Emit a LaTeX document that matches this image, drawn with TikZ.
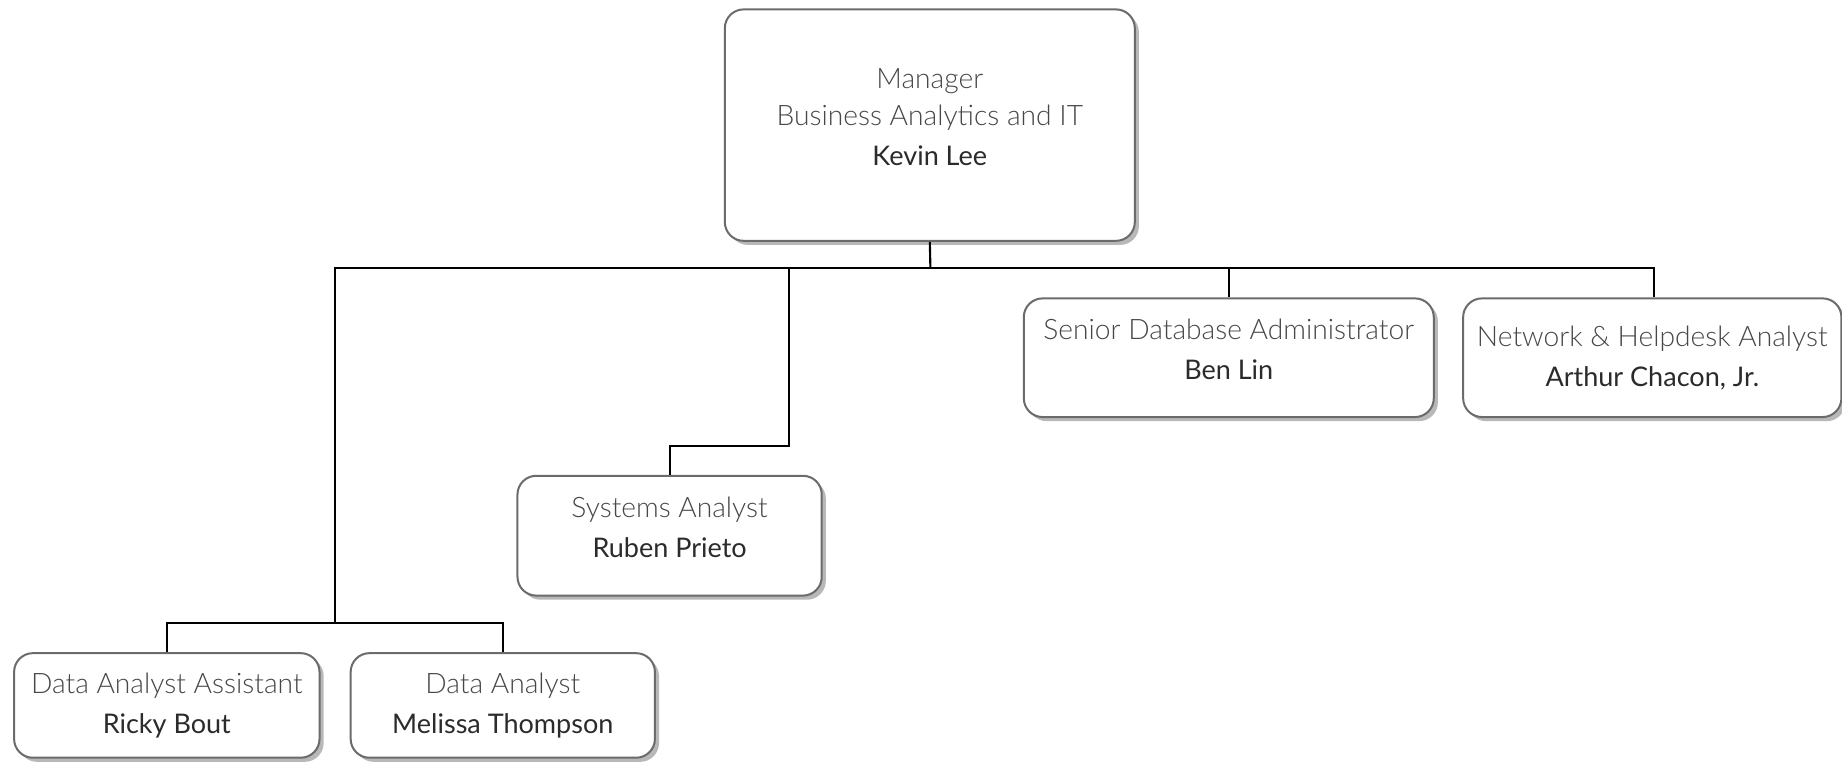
\documentclass[tikz,border=0pt]{standalone}
\usepackage{fontspec}
\setmainfont{Lato}
\newfontfamily\titlefont{Lato Light}
\usepackage{tikz}
\usetikzlibrary{shadows}
\definecolor{boxline}{HTML}{6B6B6B}
\definecolor{titlegray}{HTML}{474747}
\definecolor{namegray}{HTML}{2B2B2B}
% title line, name line, optional lift of the text block
\newcommand{\post}[3][0pt]{{\titlefont\color{titlegray}#2}\\{\fontsize{23}{34}\selectfont\color{namegray}#3\rule[-#1]{0pt}{#1}}}

\begin{document}
\begin{tikzpicture}[x=1pt,y=-1pt,
	person/.style={draw=boxline, line width=1.7pt, fill=white, rounded corners=16pt,
		align=center, inner sep=0pt, font=\fontsize{24}{34}\selectfont,
		drop shadow={shadow xshift=3.5pt, shadow yshift=-3.5pt, fill=black!28, opacity=1}},
	link/.style={draw=black, line width=1.8pt}]
	\useasboundingbox (0,0) rectangle (1568,648);
	\node[person, minimum width=349pt, minimum height=197pt] (mgr) at (791.5,106.5)
		{{\titlefont\color{titlegray}Manager}\\[-2pt]\post[14pt]{Business Analytics and IT}{Kevin Lee}};
	\node[person, minimum width=349pt, minimum height=101pt] (dba) at (1046,304.5)
		{\post[14pt]{Senior Database Administrator}{Ben Lin}};
	\node[person, minimum width=322pt, minimum height=101pt] (net) at (1406.5,304.5)
		{\post{Network \& Helpdesk Analyst}{Arthur Chacon, Jr.}};
	\node[person, minimum width=259pt, minimum height=102pt] (sys) at (570,456)
		{\post[14pt]{Systems Analyst}{Ruben Prieto}};
	\node[person, minimum width=260pt, minimum height=89pt] (daa) at (142,600.5)
		{\post{Data Analyst Assistant}{Ricky Bout}};
	\node[person, minimum width=259pt, minimum height=89pt] (da) at (428,600.5)
		{\post{Data Analyst}{Melissa Thompson}};
	\coordinate (hub) at (792,228);
	\coordinate (sysbend) at (672,380);
	\coordinate (dabend) at (285,530);
	\draw[link] (mgr.south) -- (hub);
	\draw[link] (hub) -| ([xshift=1.5pt]net.north);
	\draw[link] (hub) -| (dba.north);
	\draw[link] (hub) -| (sysbend) -| (sys.north);
	\draw[link] (hub) -| (dabend) -| (daa.north);
	\draw[link] (dabend) -| (da.north);
\end{tikzpicture}
\end{document}
